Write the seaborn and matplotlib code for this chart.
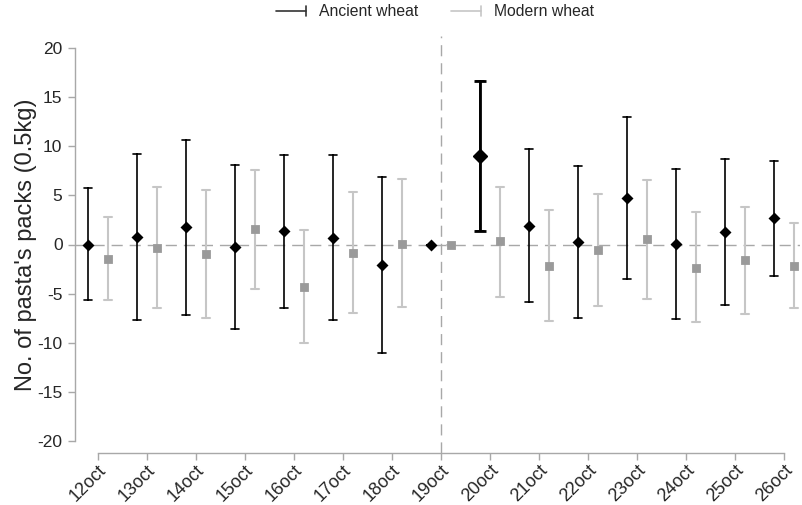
"""
Daily difference in pasta packs sold: ancient vs modern wheat (point + CI)
"""

import matplotlib

matplotlib.use("Agg")
import matplotlib.pyplot as plt  # type: ignore
import numpy as np  # type: ignore
import pandas as pd  # type: ignore
import seaborn as sns  # type: ignore
from matplotlib.legend_handler import HandlerBase  # type: ignore
from matplotlib.lines import Line2D  # type: ignore

days = ["12oct", "13oct", "14oct", "15oct", "16oct", "17oct", "18oct", "19oct",
        "20oct", "21oct", "22oct", "23oct", "24oct", "25oct", "26oct"]

ancient_mean = [0.0, 0.78, 1.77, -0.24, 1.36, 0.71, -2.11, 0.0,
                9.01, 1.9, 0.27, 4.72, 0.03, 1.29, 2.68]
ancient_lo = [-5.7, -7.65, -7.2, -8.57, -6.46, -7.72, -11.02, 0.0,
              1.39, -5.89, -7.49, -3.51, -7.62, -6.19, -3.2]
ancient_hi = [5.78, 9.21, 10.67, 8.12, 9.15, 9.15, 6.84, 0.0,
              16.7, 9.72, 8.02, 12.96, 7.71, 8.73, 8.56]

modern_mean = [-1.43, -0.31, -0.92, 1.53, -4.32, -0.85, 0.1, 0.0,
               0.34, -2.18, -0.61, 0.51, -2.35, -1.63, -2.18]
modern_lo = [-5.65, -6.46, -7.49, -4.56, -10.0, -6.97, -6.4, 0.0,
             -5.31, -7.83, -6.23, -5.51, -7.93, -7.04, -6.45]
modern_hi = [2.76, 5.82, 5.58, 7.58, 1.46, 5.31, 6.63, 0.0,
             5.88, 3.53, 5.1, 6.53, 3.27, 3.84, 2.2]

series = ["Ancient wheat", "Modern wheat"]
highlight_day = "20oct"
split_day = "19oct"

ANCIENT_COLOR = "black"
MODERN_MARKER = "#9a9a9a"
MODERN_BAR = "#c6c6c6"
AXIS_GRAY = "#a8a8a8"


def long_table() -> pd.DataFrame:
    """Three rows (lo, point, hi) per day/series; median gives the point back"""
    rows = []
    for name, lo, mid, hi in [
        (series[0], ancient_lo, ancient_mean, ancient_hi),
        (series[1], modern_lo, modern_mean, modern_hi),
    ]:
        for d, a, b, c in zip(days, lo, mid, hi):
            for v in (a, b, c):
                rows.append({"day": d, "wheat": name, "packs": v})
    return pd.DataFrame(rows)


class CapHandler(HandlerBase):
    """Legend key drawn like a sideways capped range bar"""

    def __init__(self, color, lw):
        super().__init__()
        self.color = color
        self.lw = lw

    def create_artists(self, legend, orig_handle, xdescent, ydescent,
                       width, height, fontsize, trans):
        y = height / 2 - ydescent
        x0, x1 = -xdescent, width - xdescent
        line = Line2D([x0, x1], [y, y], color=self.color, lw=self.lw)
        cap = Line2D([x1, x1], [y - 3.5, y + 3.5], color=self.color, lw=self.lw)
        line.set_transform(trans)
        cap.set_transform(trans)
        return [line, cap]


def main():
    sns.set_theme(style="white")
    plt.rcParams["font.family"] = ["Liberation Sans", "DejaVu Sans"]
    plt.rcParams["axes.unicode_minus"] = False

    df = long_table()

    fig = plt.figure(figsize=(8.02, 5.05), dpi=100)
    ax = fig.add_axes([75 / 802, 52 / 505, 725 / 802, (469 - 52) / 505])

    sns.pointplot(
        data=df, x="day", y="packs", hue="wheat",
        order=days, hue_order=series,
        estimator=np.median,
        errorbar=lambda v: (v.min(), v.max()),
        dodge=0.4, linestyle="none",
        markers=["D", "s"], markersize=4.2,
        palette={series[0]: ANCIENT_COLOR, series[1]: MODERN_MARKER},
        capsize=0.16, err_kws={"linewidth": 1.2},
        legend=False, ax=ax,
    )

    # modern wheat ranges are drawn lighter than their markers
    for ln in ax.lines:
        is_modern = matplotlib.colors.same_color(ln.get_color(), MODERN_MARKER)
        if ln.get_linestyle() == "None":
            ln.set_zorder(5)
            if is_modern:
                ln.set_markersize(3.7)
        elif is_modern:
            ln.set_color(MODERN_BAR)
            ln.set_linewidth(1.5)

    # the one clearly positive day gets a heavier mark
    i = days.index(highlight_day)
    ax.errorbar(
        i - 0.2, ancient_mean[i],
        yerr=[[ancient_mean[i] - ancient_lo[i]], [ancient_hi[i] - ancient_mean[i]]],
        fmt="D", ms=7.5, color=ANCIENT_COLOR, lw=2, capsize=4, capthick=2, zorder=6,
    )

    ax.axhline(0, color=AXIS_GRAY, lw=1, ls=(0, (8, 5)), zorder=0)
    ax.axvline(days.index(split_day), color=AXIS_GRAY, lw=1, ls=(0, (8, 5)), zorder=0)

    ax.set_xlim(-0.47, 14.33)
    ax.set_ylim(-21.25, 21.25)
    ax.set_yticks(np.arange(-20, 21, 5))
    ax.set_xlabel("")
    ax.set_ylabel("No. of pasta's packs (0.5kg)", fontsize=17, labelpad=0)

    sns.despine(ax=ax)
    ax.spines["left"].set_bounds(-20, 20)
    ax.spines["bottom"].set_bounds(0, len(days) - 1)
    for s in ("left", "bottom"):
        ax.spines[s].set_color(AXIS_GRAY)
        ax.spines[s].set_linewidth(1)
    ax.tick_params(axis="both", direction="out", length=5, width=1,
                   color=AXIS_GRAY, bottom=True, left=True)
    ax.tick_params(axis="y", labelsize=12.5, pad=4)
    ax.tick_params(axis="x", labelsize=13, pad=1)
    plt.setp(ax.get_xticklabels(), rotation=45, ha="right", rotation_mode="anchor")

    handles = [Line2D([], []), Line2D([], [])]
    fig.legend(
        handles, series,
        handler_map={
            handles[0]: CapHandler("#333333", 1.2),
            handles[1]: CapHandler(MODERN_BAR, 1.2),
        },
        loc="center", bbox_to_anchor=(435 / 802, 1 - 12 / 505),
        ncol=2, frameon=False, fontsize=11.3,
        handlelength=1.9, handletextpad=0.85, columnspacing=2.1,
    )

    fig.savefig("out.png", dpi=100)


if __name__ == "__main__":
    main()
